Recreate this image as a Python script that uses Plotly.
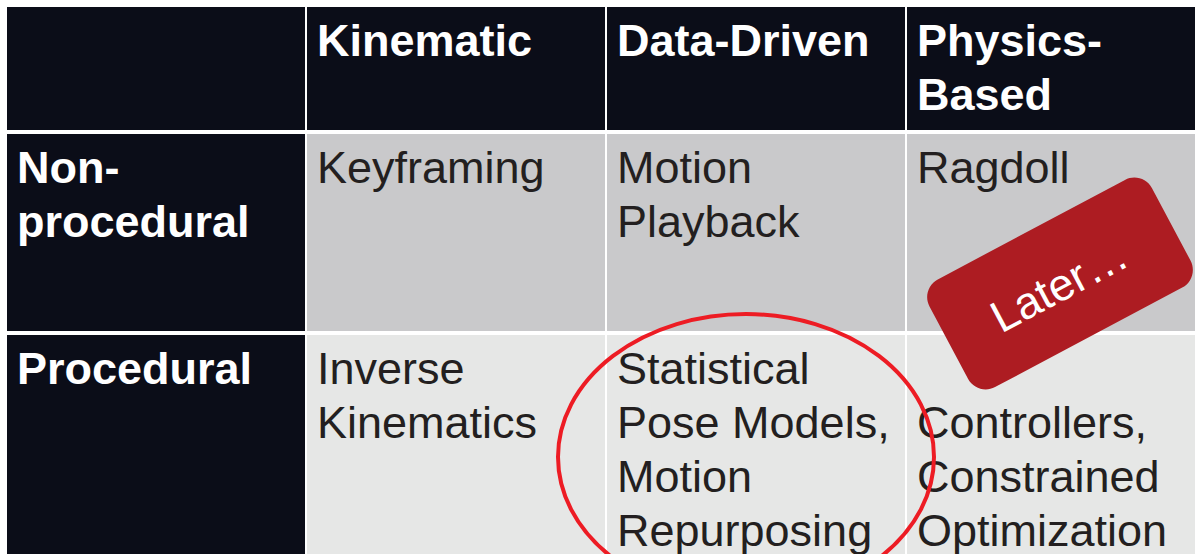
import numpy as np
import plotly.graph_objects as go

# ---------------- data ----------------
col_headers = ["Kinematic", "Data-Driven", "Physics-\nBased"]
row_headers = ["Non-\nprocedural", "Procedural"]
cell_text = [
    ["Keyframing", "Motion\nPlayback", "Ragdoll"],
    ["Inverse\nKinematics",
     "Statistical\nPose Models,\nMotion\nRepurposing",
     "\nControllers,\nConstrained\nOptimization"],
]
row_shade = [1, 2]          # shade class of each body row
callout_text = "Later…"

# ---------------- layout / style ----------------
W, H = 1195, 554
col_edges = [6, 306, 606, 906, 1206]
row_edges = [5, 132, 333, 620]
XGAP, YGAP = 2, 4
DARK, GRAY1, GRAY2 = "#0b0d18", "#c9c9cb", "#e6e7e6"
TXT_DARK = "#231f20"
FS = 45
LINE = 54
FONT = "Liberation Sans, Arial, sans-serif"
TEXT_DX = 10
BASE_DY = 48.5

z = [[0] * (len(col_headers) + 1)]
for r, shade in enumerate(row_shade):
    z.append([0] + [shade] * len(col_headers))

fig = go.Figure()
fig.add_trace(go.Heatmap(
    z=z, x=col_edges, y=row_edges,
    colorscale=[[0, DARK], [0.5, GRAY1], [1, GRAY2]],
    zmin=0, zmax=2, showscale=False, xgap=XGAP, ygap=YGAP,
    hoverinfo="skip"))

def cell_lines(text, ci, ri):
    left = col_edges[ci] + XGAP / 2
    top = row_edges[ri] + YGAP / 2
    xs, ys, ts = [], [], []
    for i, line in enumerate(text.split("\n")):
        if not line:
            continue
        base = top + BASE_DY + i * LINE
        xs.append(left + TEXT_DX)
        ys.append(base - 0.25 * FS)
        ts.append(line)
    return xs, ys, ts

bx, by, bt = [], [], []
for c, h in enumerate(col_headers):
    a, b, t = cell_lines(h, c + 1, 0)
    bx += a; by += b; bt += t
for r, h in enumerate(row_headers):
    a, b, t = cell_lines(h, 0, r + 1)
    bx += a; by += b; bt += t

nx, ny, nt = [], [], []
for r, row in enumerate(cell_text):
    for c, txt in enumerate(row):
        a, b, t = cell_lines(txt, c + 1, r + 1)
        nx += a; ny += b; nt += t

fig.add_trace(go.Scatter(x=bx, y=by, text=bt, mode="text",
                         textposition="middle right", cliponaxis=False,
                         textfont=dict(family=FONT, size=FS, color="white", weight="bold"),
                         hoverinfo="skip"))
fig.add_trace(go.Scatter(x=nx, y=ny, text=nt, mode="text",
                         textposition="middle right", cliponaxis=False,
                         textfont=dict(family=FONT, size=FS, color=TXT_DARK),
                         hoverinfo="skip"))

# red ellipse highlight
fig.add_shape(type="circle", xref="x", yref="y",
              x0=558, x1=934, y0=314, y1=600,
              line=dict(color="#ed1c24", width=4), layer="above")

# rotated rounded "Later..." box
cx, cy, L, S, R, ang = 1060, 283.5, 252, 122, 20, 28
th = np.deg2rad(ang)
def tr(u, v):
    return (cx + u * np.cos(th) + v * np.sin(th),
            cy - u * np.sin(th) + v * np.cos(th))
a, b, k = L / 2, S / 2, 0.5523 * R
segs = [("M", [(-a + R, -b)]), ("L", [(a - R, -b)]),
        ("C", [(a - R + k, -b), (a, -b + R - k), (a, -b + R)]),
        ("L", [(a, b - R)]),
        ("C", [(a, b - R + k), (a - R + k, b), (a - R, b)]),
        ("L", [(-a + R, b)]),
        ("C", [(-a + R - k, b), (-a, b - R + k), (-a, b - R)]),
        ("L", [(-a, -b + R)]),
        ("C", [(-a, -b + R - k), (-a + R - k, -b), (-a + R, -b)])]
path = ""
for cmd, pts in segs:
    path += cmd + " ".join("%.2f,%.2f" % tr(u, v) for u, v in pts) + " "
path += "Z"
fig.add_shape(type="path", path=path, xref="x", yref="y",
              fillcolor="#ad1c22", line=dict(width=0), layer="above")

fig.add_annotation(x=1059, y=285, xref="x", yref="y", text=callout_text,
                   showarrow=False, textangle=-ang,
                   font=dict(family=FONT, size=FS, color="white"),
                   xanchor="center", yanchor="middle")

fig.update_layout(
    width=W, height=H, margin=dict(l=0, r=0, t=0, b=0),
    paper_bgcolor="white", plot_bgcolor="white", showlegend=False,
    hovermode=False,
    xaxis=dict(range=[0, W], visible=False, fixedrange=True),
    yaxis=dict(range=[H, 0], visible=False, fixedrange=True),
)
fig.write_html("out.html",
               config={"displayModeBar": False, "staticPlot": True},
               post_script="document.body.style.margin='0';"
                           "document.body.style.overflow='hidden';")
